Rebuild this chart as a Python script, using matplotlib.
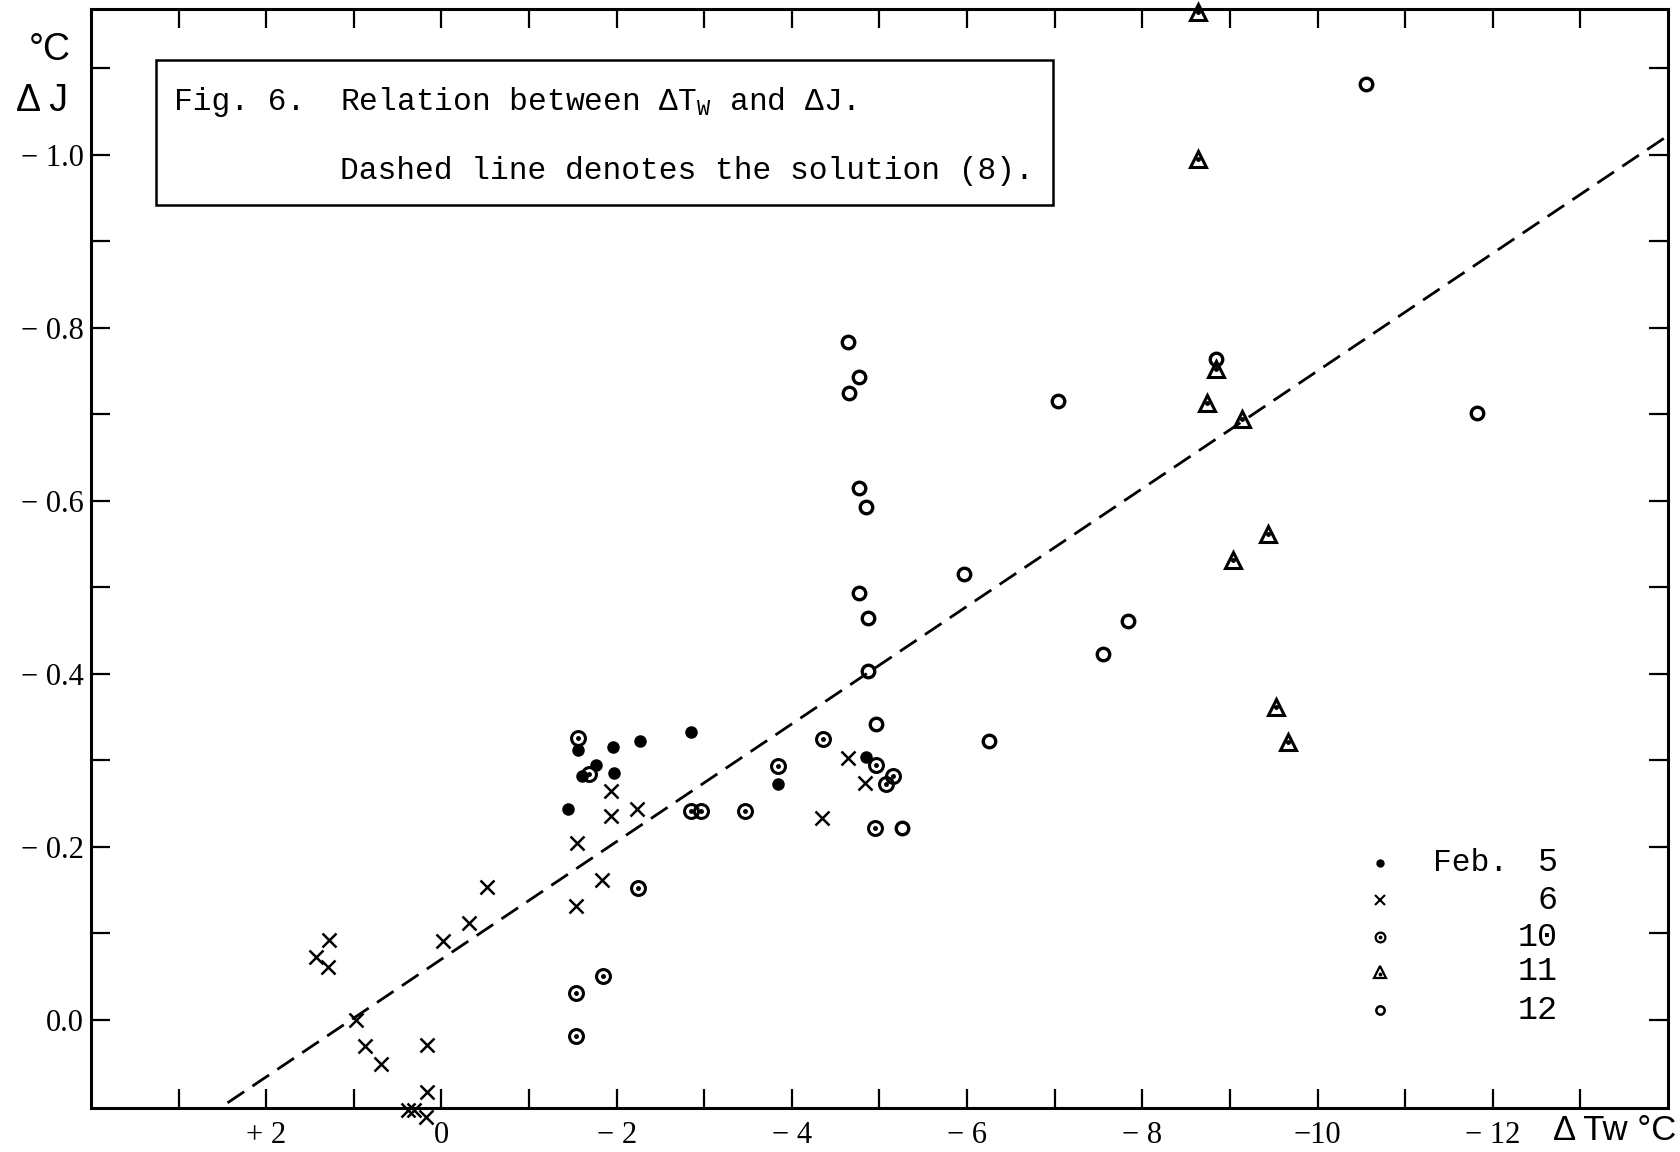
import matplotlib
matplotlib.use("Agg")
import matplotlib.pyplot as plt
from matplotlib.patches import Rectangle
from matplotlib.ticker import FixedLocator, FixedFormatter

plt.rcParams['mathtext.fontset'] = 'custom'
plt.rcParams['mathtext.rm'] = 'Liberation Mono'

# ---------------- data (ΔTw in °C, ΔJ in °C) ----------------
feb5_dTw = [-1.45, -1.56, -1.96, -2.27, -2.85, -1.76, -1.60, -1.97, -3.84, -4.85]
feb5_dJ = [-0.244, -0.312, -0.315, -0.322, -0.333, -0.295, -0.282, -0.285, -0.273, -0.304]

feb6_dTw = [1.43, 1.28, 1.29, 0.97, 0.87, 0.69, 0.17, 0.17, 0.38, 0.31, 0.18,
            -0.02, -0.32, -0.52, -1.55, -1.54, -1.83, -1.94, -1.94, -2.23,
            -4.34, -4.64, -4.84]
feb6_dJ = [-0.073, -0.092, -0.061, 0.000, 0.030, 0.051, 0.029, 0.083, 0.104, 0.104, 0.112,
           -0.091, -0.112, -0.153, -0.204, -0.132, -0.161, -0.264, -0.235, -0.244,
           -0.233, -0.302, -0.274]

feb10_dTw = [-1.56, -1.69, -2.85, -2.96, -3.46, -3.84, -4.35, -4.96, -5.15, -5.07,
             -4.95, -2.24, -1.54, -1.84, -1.54]
feb10_dJ = [-0.326, -0.284, -0.241, -0.241, -0.241, -0.293, -0.324, -0.294, -0.282, -0.272,
            -0.222, -0.152, -0.031, -0.051, 0.019]

feb11_dTw = [-8.64, -8.63, -8.84, -8.74, -9.14, -9.44, -9.04, -9.53, -9.66]
feb11_dJ = [-1.165, -0.995, -0.752, -0.713, -0.694, -0.562, -0.532, -0.362, -0.321]

feb12_dTw = [-4.64, -4.77, -4.65, -7.04, -4.77, -4.85, -5.96, -4.77, -4.87, -7.84,
             -7.55, -4.87, -10.55, -11.82, -6.25, -8.84, -4.96, -5.26]
feb12_dJ = [-0.784, -0.743, -0.724, -0.715, -0.615, -0.593, -0.515, -0.493, -0.464, -0.461,
            -0.423, -0.403, -1.082, -0.701, -0.322, -0.764, -0.342, -0.222]

# dashed line: solution (8)
sol_slope = 0.068
sol_intercept = -0.070

# ticks and labels
x_ticks = [3, 2, 1, 0, -1, -2, -3, -4, -5, -6, -7, -8, -9, -10, -11, -12, -13]
x_tick_labels = ["", "+ 2", "", "0", "", "− 2", "", "− 4", "", "− 6", "", "− 8", "",
                 "−10", "", "− 12", ""]
y_ticks = [0.0, -0.1, -0.2, -0.3, -0.4, -0.5, -0.6, -0.7, -0.8, -0.9, -1.0, -1.1]
y_tick_labels = ["0.0", "", "− 0.2", "", "− 0.4", "", "− 0.6", "", "− 0.8", "", "− 1.0", ""]

legend_days = ["5", "6", "10", "11", "12"]

# ---------------- figure ----------------
fig = plt.figure(figsize=(16.81, 11.52), dpi=100)
fig.patch.set_facecolor("white")
ax = fig.add_axes([0.05413, 0.03819, 0.93813, 0.95373])

ax.set_xlim(4.0, -14.0)
ax.set_ylim(0.102, -1.168)

for sp in ax.spines.values():
    sp.set_linewidth(2.2)
    sp.set_color("black")

ax.xaxis.set_major_locator(FixedLocator(x_ticks))
ax.xaxis.set_major_formatter(FixedFormatter(x_tick_labels))
ax.yaxis.set_major_locator(FixedLocator(y_ticks))
ax.yaxis.set_major_formatter(FixedFormatter(y_tick_labels))
ax.tick_params(axis="both", which="major", direction="in", length=14, width=1.6,
               top=True, right=True, color="black")
ax.tick_params(axis="x", pad=9, labelsize=22)
ax.tick_params(axis="y", pad=5, labelsize=22)
for lab in ax.get_xticklabels() + ax.get_yticklabels():
    lab.set_fontfamily("Liberation Serif")

# dashed solution line
xs_line = [4.0, -14.0]
ys_line = [sol_slope * x + sol_intercept for x in xs_line]
ax.plot(xs_line, ys_line, color="black", lw=2.0, dashes=(7.2, 3.6), zorder=2)

# data points
ax.plot(feb5_dTw, feb5_dJ, ls="none", marker="o", ms=8, color="black",
        clip_on=False, zorder=3)
ax.plot(feb6_dTw, feb6_dJ, ls="none", marker="x", ms=10, mew=1.8, color="black",
        clip_on=False, zorder=3)
ax.plot(feb10_dTw, feb10_dJ, ls="none", marker="o", ms=10, mfc="none", mec="black",
        mew=2.2, clip_on=False, zorder=3)
ax.plot(feb10_dTw, feb10_dJ, ls="none", marker="o", ms=2.5, color="black",
        clip_on=False, zorder=3)
ax.plot(feb11_dTw, feb11_dJ, ls="none", marker="^", ms=12, mfc="none", mec="black",
        mew=2.2, clip_on=False, zorder=3)
ax.plot(feb11_dTw, feb11_dJ, ls="none", marker="o", ms=2.5, color="black",
        clip_on=False, zorder=3)
ax.plot(feb12_dTw, feb12_dJ, ls="none", marker="o", ms=9, mfc="none", mec="black",
        mew=2.4, clip_on=False, zorder=3)

# title box
ax.add_patch(Rectangle((0.0412, 0.8219), 0.5688, 0.1319, transform=ax.transAxes,
                       fill=False, lw=1.8, edgecolor="black", zorder=4))
mono = "Liberation Mono"
ax.text(0.0526, 0.9156, "Fig. 6.", transform=ax.transAxes, fontsize=22.5,
        family=mono, ha="left", va="center")
ax.text(0.1579, 0.9156, "Relation between ΔT$_\\mathrm{W}$ and ΔJ.",
        transform=ax.transAxes, fontsize=22.5, family=mono, ha="left", va="center")
ax.text(0.1579, 0.8524, "Dashed line denotes the solution (8).",
        transform=ax.transAxes, fontsize=22.5, family=mono, ha="left", va="center")

# legend (hand-drawn style)
leg_rows = [0.223, 0.1893, 0.1556, 0.1238, 0.0892]
leg_styles = [
    dict(marker="o", ms=5, color="black"),
    dict(marker="x", ms=7, mew=1.5, color="black"),
    dict(marker="o", ms=7, mfc="none", mec="black", mew=1.6),
    dict(marker="^", ms=8, mfc="none", mec="black", mew=1.6),
    dict(marker="o", ms=6, mfc="none", mec="black", mew=1.8),
]
for yy, day, st in zip(leg_rows, legend_days, leg_styles):
    ax.plot([0.8174], [yy], ls="none", transform=ax.transAxes, clip_on=False, **st)
    ax.text(0.9302, yy, day, transform=ax.transAxes, fontsize=24, family=mono,
            ha="right", va="center")
ax.plot([0.8174], [leg_rows[2]], ls="none", marker="o", ms=1.8, color="black",
        transform=ax.transAxes)
ax.plot([0.8174], [leg_rows[3] - 0.002], ls="none", marker="o", ms=1.8, color="black",
        transform=ax.transAxes)
ax.text(0.851, leg_rows[0], "Feb.", transform=ax.transAxes, fontsize=22.5, family=mono,
        ha="left", va="center")

# axis labels
fig.text(50 / 1681, 1 - 50 / 1152, "°C", fontsize=27, family="Liberation Sans",
         ha="center", va="center")
fig.text(42 / 1681, 1 - 101 / 1152, "Δ J", fontsize=27, family="Liberation Sans",
         ha="center", va="center")
fig.text(1676 / 1681, 1 - 1130 / 1152, "Δ Tw °C", fontsize=25, family="Liberation Sans",
         ha="right", va="center")

fig.savefig("out.png", dpi=100, facecolor="white")
